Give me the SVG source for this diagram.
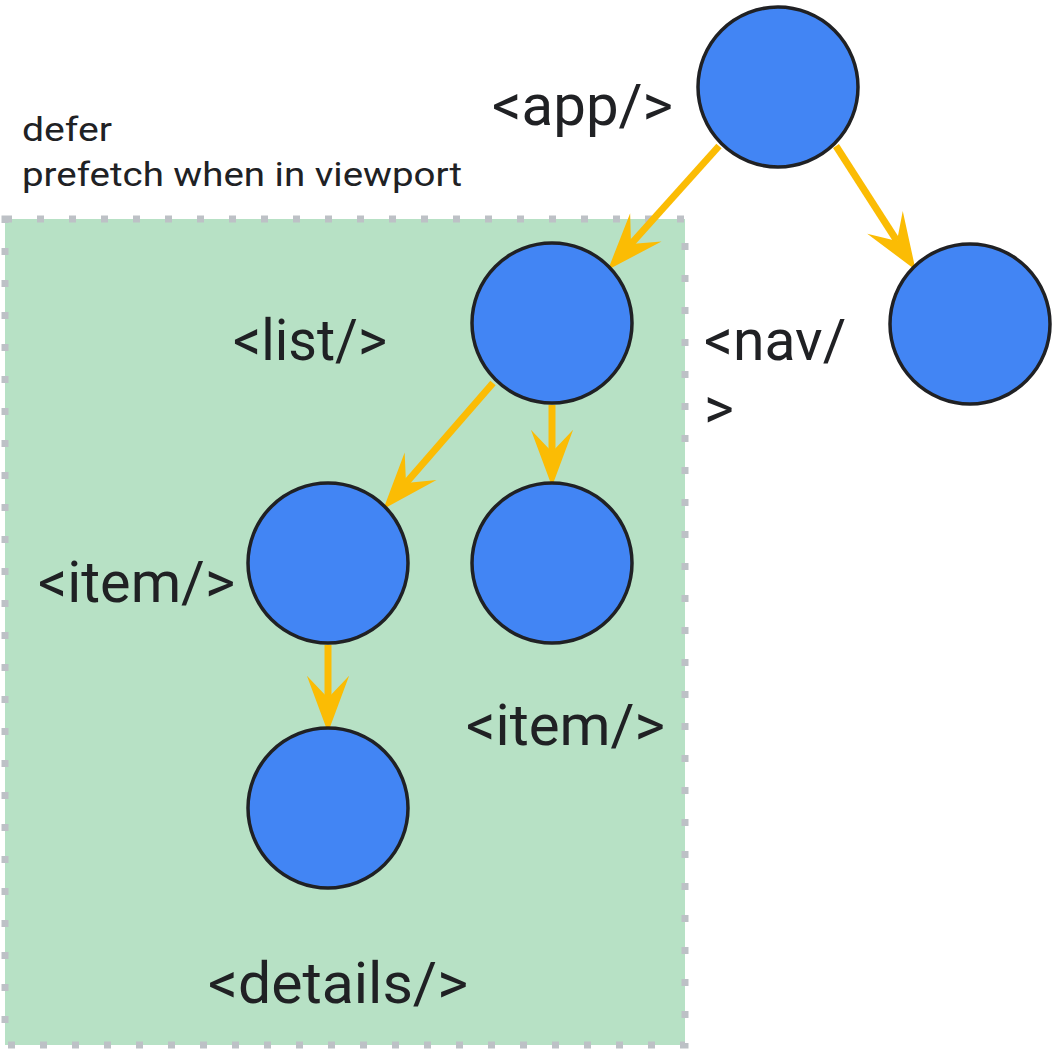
<svg xmlns="http://www.w3.org/2000/svg" width="1057" height="1049" viewBox="0 0 1057 1049">
<style>
.node{fill:#4285F4;stroke:#202124;stroke-width:3.5}
.lbl{font-family:Roboto,"Liberation Sans",sans-serif;font-size:57px;fill:#202124}
.note{font-family:Roboto,"Liberation Sans",sans-serif;font-size:33px;fill:#202124}
.edge{stroke:#FBBC04;stroke-width:7;fill:none}
</style>
<defs>
<marker id="ah" markerUnits="userSpaceOnUse" markerWidth="60" markerHeight="50" viewBox="-22 -21 54 42" refX="0" refY="0" orient="auto" overflow="visible">
<path d="M31,0 L-20,-19 L0,0 L-20,19 Z" fill="#FBBC04"/>
</marker>
</defs>
<rect x="0" y="0" width="1057" height="1049" fill="#ffffff"/>
<g id="region">
<rect x="5" y="219" width="680" height="826" fill="#B7E1C5" stroke="#BDC1C6" stroke-width="7" stroke-dasharray="7 25"/>
<text class="note" x="22" y="141" textLength="90" lengthAdjust="spacingAndGlyphs">defer</text>
<text class="note" x="22" y="186" textLength="440" lengthAdjust="spacingAndGlyphs">prefetch when in viewport</text>
</g>
<g id="connectors">
<line class="edge" x1="719" y1="146" x2="631" y2="244" marker-end="url(#ah)"/>
<line class="edge" x1="836" y1="146" x2="897" y2="241" marker-end="url(#ah)"/>
<line class="edge" x1="493" y1="383" x2="406" y2="483" marker-end="url(#ah)"/>
<line class="edge" x1="552" y1="405" x2="552" y2="452" marker-end="url(#ah)"/>
<line class="edge" x1="328" y1="645" x2="328" y2="698" marker-end="url(#ah)"/>
</g>
<g id="app"><circle class="node" cx="778" cy="87" r="80"/><text class="lbl" x="492" y="125" textLength="181" lengthAdjust="spacingAndGlyphs">&lt;app/&gt;</text></g>
<g id="nav"><circle class="node" cx="970" cy="324" r="80"/><text class="lbl" x="704" y="360">&lt;nav/</text><text class="lbl" x="704" y="428">&gt;</text></g>
<g id="list"><circle class="node" cx="552" cy="323" r="80"/><text class="lbl" x="233" y="360" textLength="154" lengthAdjust="spacingAndGlyphs">&lt;list/&gt;</text></g>
<g id="item1"><circle class="node" cx="328" cy="563" r="80"/><text class="lbl" x="38" y="602" textLength="197" lengthAdjust="spacingAndGlyphs">&lt;item/&gt;</text></g>
<g id="item2"><circle class="node" cx="552" cy="563" r="80"/><text class="lbl" x="466" y="745" textLength="199" lengthAdjust="spacingAndGlyphs">&lt;item/&gt;</text></g>
<g id="details"><circle class="node" cx="328" cy="808" r="80"/><text class="lbl" x="208" y="1003" textLength="260" lengthAdjust="spacingAndGlyphs">&lt;details/&gt;</text></g>
</svg>
